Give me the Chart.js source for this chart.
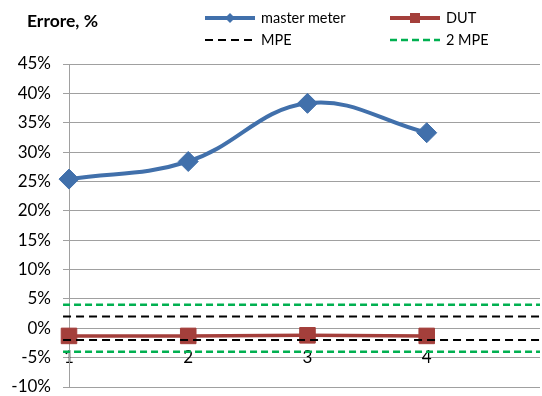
<!DOCTYPE html>
<html>
<head>
<meta charset="utf-8">
<script src="https://cdn.jsdelivr.net/npm/chart.js@4.4.0/dist/chart.umd.min.js"></script>
<style>
  html, body { margin: 0; padding: 0; background: #fff; }
  #wrap { position: relative; width: 542px; height: 396px; font-family: Lato, "Open Sans", sans-serif; color: #000; }
  #chart { position: absolute; left: 0; top: 0; }
  #title { position: absolute; left: 27px; top: 11px; font-weight: bold; font-size: 17.5px; line-height: 20px; }
  .leg { position: absolute; display: flex; align-items: center; font-size: 14.5px; line-height: 16px; height: 16px; }
  .leg svg { margin-right: 6px; }
</style>
</head>
<body>
<div id="wrap">
  <canvas id="chart" width="542" height="396"></canvas>
  <div id="title">Errore, %</div>
  <div class="leg" style="left:205px; top:10px;">
    <svg width="50" height="16"><line x1="0" y1="8" x2="50" y2="8" stroke="#4170ab" stroke-width="4"/><polygon points="25,3 30,8 25,13 20,8" fill="#4170ab"/></svg>master meter
  </div>
  <div class="leg" style="left:390px; top:10px;">
    <svg width="50" height="16"><line x1="0" y1="8" x2="50" y2="8" stroke="#a43f3b" stroke-width="4"/><rect x="20" y="3" width="10" height="10" fill="#a43f3b"/></svg>DUT
  </div>
  <div class="leg" style="left:205px; top:32px;">
    <svg width="50" height="16"><line x1="0" y1="8" x2="50" y2="8" stroke="#000" stroke-width="2" stroke-dasharray="8 5"/></svg>MPE
  </div>
  <div class="leg" style="left:390px; top:32px;">
    <svg width="50" height="16"><line x1="0" y1="8" x2="50" y2="8" stroke="#00b050" stroke-width="2.5" stroke-dasharray="7 4"/></svg>2 MPE
  </div>
</div>
<script>
"use strict";

// data
const xLabels = [1, 2, 3, 4];
const masterMeter = [25.4, 28.4, 38.3, 33.3];
const dut = [-1.3, -1.3, -1.2, -1.3];
const mpe = 2;
const mpe2 = 4;
const xStart = 0.95;
const xEnd = 4.95;

const blue = "#4170ab",
  red = "#a43f3b",
  green = "#00b050",
  gridColor = "#a0a0a0";

const toPoints = (ys) => ys.map((y, i) => ({ x: xLabels[i], y: y }));
const flat = (y) => [{ x: xStart, y: y }, { x: xEnd, y: y }];

function dashed(y, color, width, dash) {
  return {
    label: "",
    data: flat(y),
    borderColor: color,
    borderWidth: width,
    borderDash: dash,
    pointRadius: 0,
    fill: false,
    clip: false,
    order: 0,
  };
}

new Chart(document.getElementById("chart"), {
  type: "line",
  data: {
    datasets: [
      {
        label: "master meter",
        data: toPoints(masterMeter),
        borderColor: blue,
        backgroundColor: blue,
        borderWidth: 4,
        tension: 0.4,
        pointStyle: "rectRot",
        pointRadius: 10,
        pointBorderWidth: 1,
        clip: false,
        order: 2,
      },
      {
        label: "DUT",
        data: toPoints(dut),
        borderColor: red,
        backgroundColor: red,
        borderWidth: 3.5,
        tension: 0,
        pointStyle: "rect",
        pointRadius: 11,
        pointBorderWidth: 1,
        clip: false,
        order: 1,
      },
      dashed(mpe, "#000", 2, [8, 5]),
      dashed(-mpe, "#000", 2, [8, 5]),
      dashed(mpe2, green, 2.5, [7, 4]),
      dashed(-mpe2, green, 2.5, [7, 4]),
    ],
  },
  options: {
    responsive: false,
    animation: false,
    layout: { autoPadding: false, padding: { left: 0, top: 64, right: 2, bottom: 9 } },
    plugins: { legend: { display: false }, tooltip: { enabled: false } },
    scales: {
      x: {
        type: "linear",
        min: 1,
        max: xEnd,
        position: { y: 0 },
        grid: { display: false },
        border: { display: false },
        ticks: {
          stepSize: 1,
          autoSkip: false,
          maxRotation: 0,
          padding: 11,
          color: "#000",
          font: { family: "Lato", size: 17 },
          callback: (v) => (Number.isInteger(v) && v <= 4 ? String(v) : ""),
        },
        afterFit: (scale) => {
          scale.height = 0;
          scale.paddingLeft = 0;
          scale.paddingRight = 0;
        },
      },
      y: {
        min: -10,
        max: 45,
        grid: { color: gridColor, tickLength: 6 },
        border: { display: true, color: gridColor, width: 1 },
        ticks: {
          stepSize: 5,
          padding: 12,
          color: "#000",
          font: { family: "Lato", size: 17 },
          callback: (v) => v + "%",
        },
        afterFit: (scale) => {
          scale.width = 69;
          scale.paddingTop = 0;
          scale.paddingBottom = 0;
        },
      },
    },
  },
});
</script>
</body>
</html>
